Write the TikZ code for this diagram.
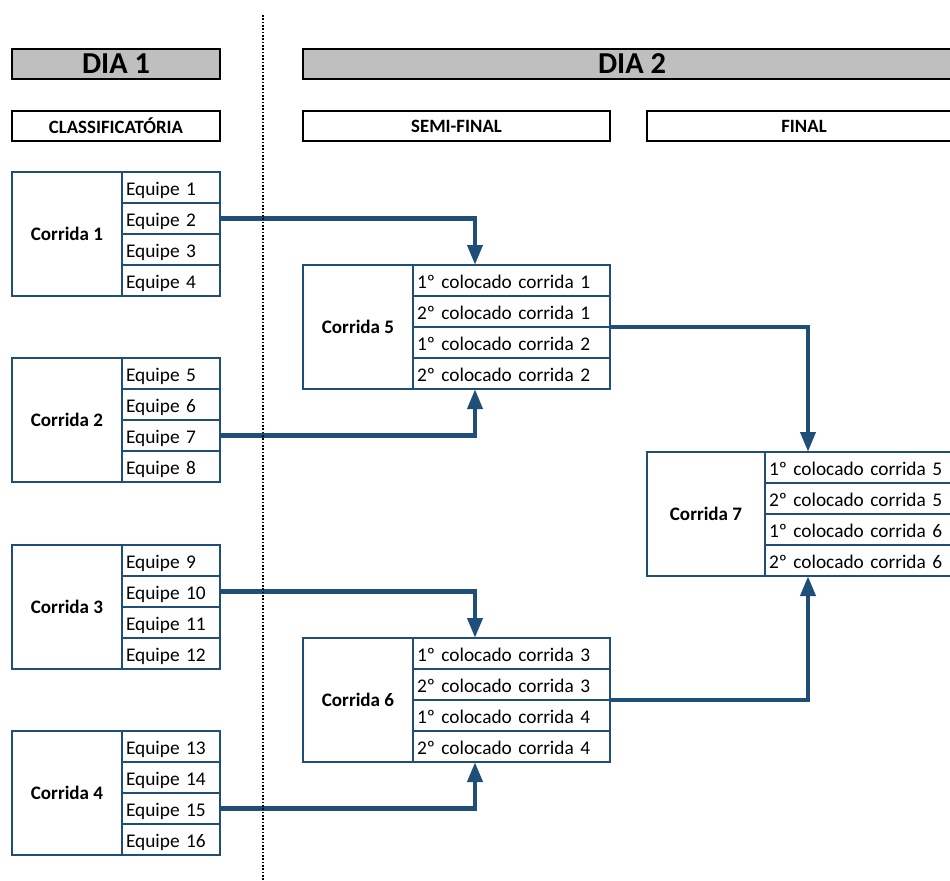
\documentclass[tikz,border=0pt]{standalone}
\usepackage{fontspec}
\setmainfont{Carlito}
\usetikzlibrary{positioning,arrows.meta}
\definecolor{boxblue}{RGB}{31,78,121}
\definecolor{headgray}{RGB}{191,191,191}

\begin{document}
\begin{tikzpicture}[x=0.75pt, y=-0.75pt,
  day/.style={draw=black, line width=2pt, fill=headgray, minimum height=22.5pt, inner sep=0pt, outer sep=0pt, anchor=north west, font=\fontsize{22.8}{26}\selectfont\bfseries},
  phase/.style={day, fill=white, font=\fontsize{14.1}{17}\selectfont\bfseries},
  race/.style={draw=boxblue, line width=0.8pt, minimum height=93pt, inner sep=0pt, outer sep=0pt, anchor=north west, font=\fontsize{14.3}{17}\selectfont\bfseries},
  team/.style={draw=boxblue, line width=0.8pt, minimum height=23.25pt, text width=67.5pt, inner xsep=3pt, inner ysep=0pt, outer sep=0pt, align=left, text height=13.9pt, text depth=2pt, font=\fontsize{14.5}{17}\selectfont},
  place/.style={team, text width=141.75pt},
  frame/.style={draw=boxblue, line width=1.6pt},
  link/.style={draw=boxblue, line width=3.5pt, -{Triangle[length=15pt,width=11pt]}},
]
\useasboundingbox (0,0) rectangle (950,881);
\fill[white] (0,0) rectangle (950,881);
\clip (0,0) rectangle (950,881);

% headings
\node[day, minimum width=156pt] (dia1) at (12,49) {DIA 1};
\node[day, minimum width=493.5pt] (dia2) at (303,49) {DIA 2};
\node[phase, minimum width=156pt] (classif) at (12,111) {CLASSIFICATÓRIA};
\node[phase, minimum width=230.25pt] (semi) at (303,111) {SEMI-FINAL};
\node[phase, minimum width=235.5pt] (final) at (647,111) {FINAL};

% corrida 1
\node[race, minimum width=82.5pt] (c1) at (12,172) {Corrida 1};
\node[team, anchor=north west] (c1a) at (c1.north east) {Equipe 1};
\node[team, below=0pt of c1a] (c1b) {Equipe 2};
\node[team, below=0pt of c1b] (c1c) {Equipe 3};
\node[team, below=0pt of c1c] (c1d) {Equipe 4};
\draw[frame] (c1.north west) rectangle (c1d.south east);

% corrida 2
\node[race, minimum width=82.5pt] (c2) at (12,358) {Corrida 2};
\node[team, anchor=north west] (c2a) at (c2.north east) {Equipe 5};
\node[team, below=0pt of c2a] (c2b) {Equipe 6};
\node[team, below=0pt of c2b] (c2c) {Equipe 7};
\node[team, below=0pt of c2c] (c2d) {Equipe 8};
\draw[frame] (c2.north west) rectangle (c2d.south east);

% corrida 3
\node[race, minimum width=82.5pt] (c3) at (12,545) {Corrida 3};
\node[team, anchor=north west] (c3a) at (c3.north east) {Equipe 9};
\node[team, below=0pt of c3a] (c3b) {Equipe 10};
\node[team, below=0pt of c3b] (c3c) {Equipe 11};
\node[team, below=0pt of c3c] (c3d) {Equipe 12};
\draw[frame] (c3.north west) rectangle (c3d.south east);

% corrida 4
\node[race, minimum width=82.5pt] (c4) at (12,731) {Corrida 4};
\node[team, anchor=north west] (c4a) at (c4.north east) {Equipe 13};
\node[team, below=0pt of c4a] (c4b) {Equipe 14};
\node[team, below=0pt of c4b] (c4c) {Equipe 15};
\node[team, below=0pt of c4c] (c4d) {Equipe 16};
\draw[frame] (c4.north west) rectangle (c4d.south east);

% corrida 5
\node[race, minimum width=82.5pt] (c5) at (303,265) {Corrida 5};
\node[place, anchor=north west] (c5a) at (c5.north east) {1º colocado corrida 1};
\node[place, below=0pt of c5a] (c5b) {2º colocado corrida 1};
\node[place, below=0pt of c5b] (c5c) {1º colocado corrida 2};
\node[place, below=0pt of c5c] (c5d) {2º colocado corrida 2};
\draw[frame] (c5.north west) rectangle (c5d.south east);

% corrida 6
\node[race, minimum width=82.5pt] (c6) at (303,638) {Corrida 6};
\node[place, anchor=north west] (c6a) at (c6.north east) {1º colocado corrida 3};
\node[place, below=0pt of c6a] (c6b) {2º colocado corrida 3};
\node[place, below=0pt of c6b] (c6c) {1º colocado corrida 4};
\node[place, below=0pt of c6c] (c6d) {2º colocado corrida 4};
\draw[frame] (c6.north west) rectangle (c6d.south east);

% corrida 7
\node[race, minimum width=88.5pt] (c7) at (647,452) {Corrida 7};
\node[place, anchor=north west] (c7a) at (c7.north east) {1º colocado corrida 5};
\node[place, below=0pt of c7a] (c7b) {2º colocado corrida 5};
\node[place, below=0pt of c7b] (c7c) {1º colocado corrida 6};
\node[place, below=0pt of c7c] (c7d) {2º colocado corrida 6};
\draw[frame] (c7.north west) rectangle (c7d.south east);

% arrows
\draw[link] (c1b.east) -| ([xshift=46.5pt]c5a.north west);
\draw[link] (c2c.east) -| ([xshift=46.5pt]c5d.south west);
\draw[link] (c3b.east) -| ([xshift=46.5pt]c6a.north west);
\draw[link] (c4c.east) -| ([xshift=46.5pt]c6d.south west);
\draw[link] (c5b.south east) -| ([xshift=32.25pt]c7a.north west);
\draw[link] (c6b.south east) -| ([xshift=32.25pt]c7d.south west);

% divider between days
\draw[line width=1.5pt, dash pattern=on 1.2pt off 1.3pt] (263,15) -- (263,881);

\end{tikzpicture}
\end{document}
